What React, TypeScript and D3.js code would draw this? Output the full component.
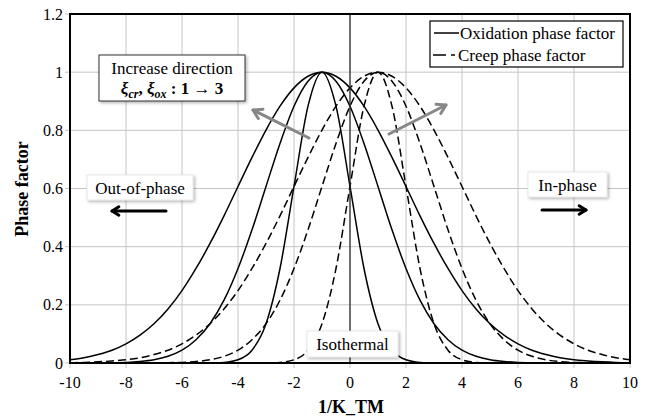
import React, { useEffect, useRef } from 'react';
import * as d3 from 'd3';

// sampled 1/K_TM positions shared by every curve
const xValues = [
  -10, -9.5, -9, -8.5, -8, -7.5, -7, -6.5, -6, -5.5, -5, -4.5, -4, -3.5, -3, -2.5, -2, -1.5, -1, -0.5,
  0, 0.5, 1, 1.5, 2, 2.5, 3, 3.5, 4, 4.5, 5, 5.5, 6, 6.5, 7, 7.5, 8, 8.5, 9, 9.5, 10,
];

// oxidation phase factor (solid), narrow -> wide
const oxidation1 = [
  0, 0, 0, 0, 0, 0, 0, 0, 0, 0, 0, 0.002, 0.011, 0.044, 0.135, 0.325, 0.607, 0.883, 1, 0.883,
  0.607, 0.325, 0.135, 0.044, 0.011, 0.002, 0, 0, 0, 0, 0, 0, 0, 0, 0, 0, 0, 0, 0, 0, 0,
];
const oxidation2 = [
  0, 0, 0, 0.001, 0.002, 0.005, 0.011, 0.023, 0.044, 0.08, 0.135, 0.216, 0.325, 0.458, 0.607, 0.755, 0.883, 0.969, 1, 0.969,
  0.883, 0.755, 0.607, 0.458, 0.325, 0.216, 0.135, 0.08, 0.044, 0.023, 0.011, 0.005, 0.002, 0.001, 0, 0, 0, 0, 0, 0, 0,
];
const oxidation3 = [
  0.011, 0.018, 0.029, 0.044, 0.066, 0.096, 0.135, 0.186, 0.249, 0.325, 0.411, 0.506, 0.607, 0.707, 0.801, 0.883, 0.946, 0.986, 1, 0.986,
  0.946, 0.883, 0.801, 0.707, 0.607, 0.506, 0.411, 0.325, 0.249, 0.186, 0.135, 0.096, 0.066, 0.044, 0.029, 0.018, 0.011, 0.007, 0.004, 0.002, 0.001,
];

// creep phase factor (dashed), narrow -> wide
const creep1 = [
  0, 0, 0, 0, 0, 0, 0, 0, 0, 0, 0, 0, 0, 0, 0, 0.002, 0.011, 0.044, 0.135, 0.325,
  0.607, 0.883, 1, 0.883, 0.607, 0.325, 0.135, 0.044, 0.011, 0.002, 0, 0, 0, 0, 0, 0, 0, 0, 0, 0, 0,
];
const creep2 = [
  0, 0, 0, 0, 0, 0, 0, 0.001, 0.002, 0.005, 0.011, 0.023, 0.044, 0.08, 0.135, 0.216, 0.325, 0.458, 0.607, 0.755,
  0.883, 0.969, 1, 0.969, 0.883, 0.755, 0.607, 0.458, 0.325, 0.216, 0.135, 0.08, 0.044, 0.023, 0.011, 0.005, 0.002, 0.001, 0, 0, 0,
];
const creep3 = [
  0.001, 0.002, 0.004, 0.007, 0.011, 0.018, 0.029, 0.044, 0.066, 0.096, 0.135, 0.186, 0.249, 0.325, 0.411, 0.506, 0.607, 0.707, 0.801, 0.883,
  0.946, 0.986, 1, 0.986, 0.946, 0.883, 0.801, 0.707, 0.607, 0.506, 0.411, 0.325, 0.249, 0.186, 0.135, 0.096, 0.066, 0.044, 0.029, 0.018, 0.011,
];

const xTicks = [-10, -8, -6, -4, -2, 0, 2, 4, 6, 8, 10];
const yTicks = [0, 0.2, 0.4, 0.6, 0.8, 1, 1.2];
const yTickLabels = ['0', '0.2', '0.4', '0.6', '0.8', '1', '1.2'];

const FONT = 'Liberation Serif, Tinos, DejaVu Serif, serif';

function drawArrow(g: any, x1: number, y1: number, x2: number, y2: number, color: string, width: number, head: number) {
  const ang = Math.atan2(y2 - y1, x2 - x1);
  g.append('line')
    .attr('x1', x1).attr('y1', y1).attr('x2', x2).attr('y2', y2)
    .attr('stroke', color).attr('stroke-width', width).attr('stroke-linecap', 'round');
  const a1 = ang + Math.PI - 0.55, a2 = ang + Math.PI + 0.55;
  g.append('path')
    .attr('d', `M${x2 + head * Math.cos(a1)},${y2 + head * Math.sin(a1)} L${x2},${y2} L${x2 + head * Math.cos(a2)},${y2 + head * Math.sin(a2)}`)
    .attr('fill', 'none').attr('stroke', color).attr('stroke-width', width)
    .attr('stroke-linejoin', 'round').attr('stroke-linecap', 'round');
}

function App() {
  const ref = useRef<SVGSVGElement>(null);

  useEffect(() => {
    const svg = d3.select(ref.current);
    svg.selectAll('*').remove();

    const defs = svg.append('defs');
    defs.append('filter').attr('id', 'shadow').attr('x', '-20%').attr('y', '-20%').attr('width', '140%').attr('height', '160%')
      .append('feDropShadow').attr('dx', 1.5).attr('dy', 1.5).attr('stdDeviation', 1.5)
      .attr('flood-color', '#000').attr('flood-opacity', 0.3);
    defs.append('clipPath').attr('id', 'plotclip')
      .append('rect').attr('x', 70).attr('y', 14).attr('width', 560).attr('height', 349);

    const x = d3.scaleLinear().domain([-10, 10]).range([70, 630]);
    const y = d3.scaleLinear().domain([0, 1.2]).range([363, 14]);

    // grid
    const grid = svg.append('g');
    xTicks.forEach(t => {
      grid.append('line').attr('x1', x(t)).attr('x2', x(t)).attr('y1', y(0) + 5).attr('y2', y(1.2))
        .attr('stroke', '#c4c4c4').attr('stroke-width', 1);
    });
    yTicks.forEach(t => {
      grid.append('line').attr('x1', x(-10) - 5).attr('x2', x(10)).attr('y1', y(t)).attr('y2', y(t))
        .attr('stroke', '#c4c4c4').attr('stroke-width', 1);
    });

    // tick labels
    svg.append('g').selectAll('text').data(yTicks).join('text')
      .attr('x', 63).attr('y', d => y(d) + 5.5).attr('text-anchor', 'end')
      .style('font-family', FONT).attr('font-size', 16).text((d, i) => yTickLabels[i]);
    svg.append('g').selectAll('text').data(xTicks).join('text')
      .attr('x', d => x(d)).attr('y', 388).attr('text-anchor', 'middle')
      .style('font-family', FONT).attr('font-size', 16).text(d => String(d));

    // curves
    const line = d3.line<number>().x((d, i) => x(xValues[i])).y(d => y(d)).curve(d3.curveMonotoneX);
    const curves = svg.append('g').attr('clip-path', 'url(#plotclip)');
    [oxidation1, oxidation2, oxidation3].forEach(s => {
      curves.append('path').attr('d', line(s)).attr('fill', 'none').attr('stroke', '#000').attr('stroke-width', 1.5);
    });
    [creep1, creep2, creep3].forEach(s => {
      curves.append('path').attr('d', line(s)).attr('fill', 'none').attr('stroke', '#000').attr('stroke-width', 1.5)
        .attr('stroke-dasharray', '8,4');
    });

    // zero line
    svg.append('line').attr('x1', x(0)).attr('x2', x(0)).attr('y1', y(0)).attr('y2', y(1.2))
      .attr('stroke', '#222').attr('stroke-width', 1.2);

    // frame
    svg.append('rect').attr('x', 70).attr('y', 14).attr('width', 560).attr('height', 349)
      .attr('fill', 'none').attr('stroke', '#000').attr('stroke-width', 2);

    // axis titles
    svg.append('text').attr('x', 351).attr('y', 413).attr('text-anchor', 'middle')
      .style('font-family', FONT).attr('font-size', 18).attr('font-weight', 'bold').text('1/K_TM');
    svg.append('text').attr('transform', 'translate(28,189) rotate(-90)').attr('text-anchor', 'middle')
      .style('font-family', FONT).attr('font-size', 18).attr('font-weight', 'bold').text('Phase factor');

    // legend
    const lg = svg.append('g');
    lg.append('rect').attr('x', 430).attr('y', 21).attr('width', 193).attr('height', 46)
      .attr('fill', '#fff').attr('stroke', '#000').attr('stroke-width', 1.2);
    lg.append('line').attr('x1', 434).attr('x2', 459).attr('y1', 33).attr('y2', 33)
      .attr('stroke', '#000').attr('stroke-width', 1.5);
    lg.append('line').attr('x1', 433).attr('x2', 456).attr('y1', 55).attr('y2', 55)
      .attr('stroke', '#000').attr('stroke-width', 1.5).attr('stroke-dasharray', '13,5,4');
    lg.append('text').attr('x', 460).attr('y', 38.5).style('font-family', FONT).attr('font-size', 17).text('Oxidation phase factor');
    lg.append('text').attr('x', 458).attr('y', 60.5).style('font-family', FONT).attr('font-size', 17).text('Creep phase factor');

    // increase direction note
    const note = svg.append('g');
    note.append('rect').attr('x', 99).attr('y', 55).attr('width', 146).attr('height', 46)
      .attr('fill', '#fff').attr('stroke', '#333').attr('stroke-width', 1).attr('filter', 'url(#shadow)');
    note.append('text').attr('x', 172).attr('y', 74).attr('text-anchor', 'middle')
      .style('font-family', FONT).attr('font-size', 17).text('Increase direction');
    const t2 = note.append('text').attr('x', 172).attr('y', 94).attr('text-anchor', 'middle')
      .style('font-family', FONT).attr('font-size', 17).attr('font-weight', 'bold');
    t2.append('tspan').attr('font-style', 'italic').text('ξ');
    t2.append('tspan').attr('font-style', 'italic').attr('font-size', 12).attr('dy', 4).text('cr');
    t2.append('tspan').attr('dy', -4).text(', ');
    t2.append('tspan').attr('font-style', 'italic').text('ξ');
    t2.append('tspan').attr('font-style', 'italic').attr('font-size', 12).attr('dy', 4).text('ox');
    t2.append('tspan').attr('dy', -4).text(' : 1 → 3');

    // gray direction arrows
    const arrows = svg.append('g');
    drawArrow(arrows, 309, 138, 253, 110, '#878787', 3, 10);
    drawArrow(arrows, 389, 134, 446, 105, '#878787', 3, 10);

    // phase labels
    const labels: [string, number, number, number, number][] = [
      ['Out-of-phase', 87, 175, 106, 25],
      ['In-phase', 528, 172, 79, 25],
      ['Isothermal', 307, 331, 91, 26],
    ];
    labels.forEach(([txt, bx, by, bw, bh]) => {
      svg.append('rect').attr('x', bx).attr('y', by).attr('width', bw).attr('height', bh)
        .attr('fill', '#fff').attr('stroke', '#e2e2e2').attr('stroke-width', 0.8).attr('filter', 'url(#shadow)');
      svg.append('text').attr('x', bx + bw / 2).attr('y', by + bh / 2 + 6).attr('text-anchor', 'middle')
        .style('font-family', FONT).attr('font-size', 17).text(txt);
    });

    const blk = svg.append('g');
    drawArrow(blk, 166, 211, 112, 211, '#000', 3, 8);
    drawArrow(blk, 542, 210, 586, 210, '#000', 3, 8);
  }, []);

  return (
    <svg ref={ref} width={651} height={419}
      style={{ position: 'absolute', left: 0, top: 0, background: '#fff' }} />
  );
}

export default App;
